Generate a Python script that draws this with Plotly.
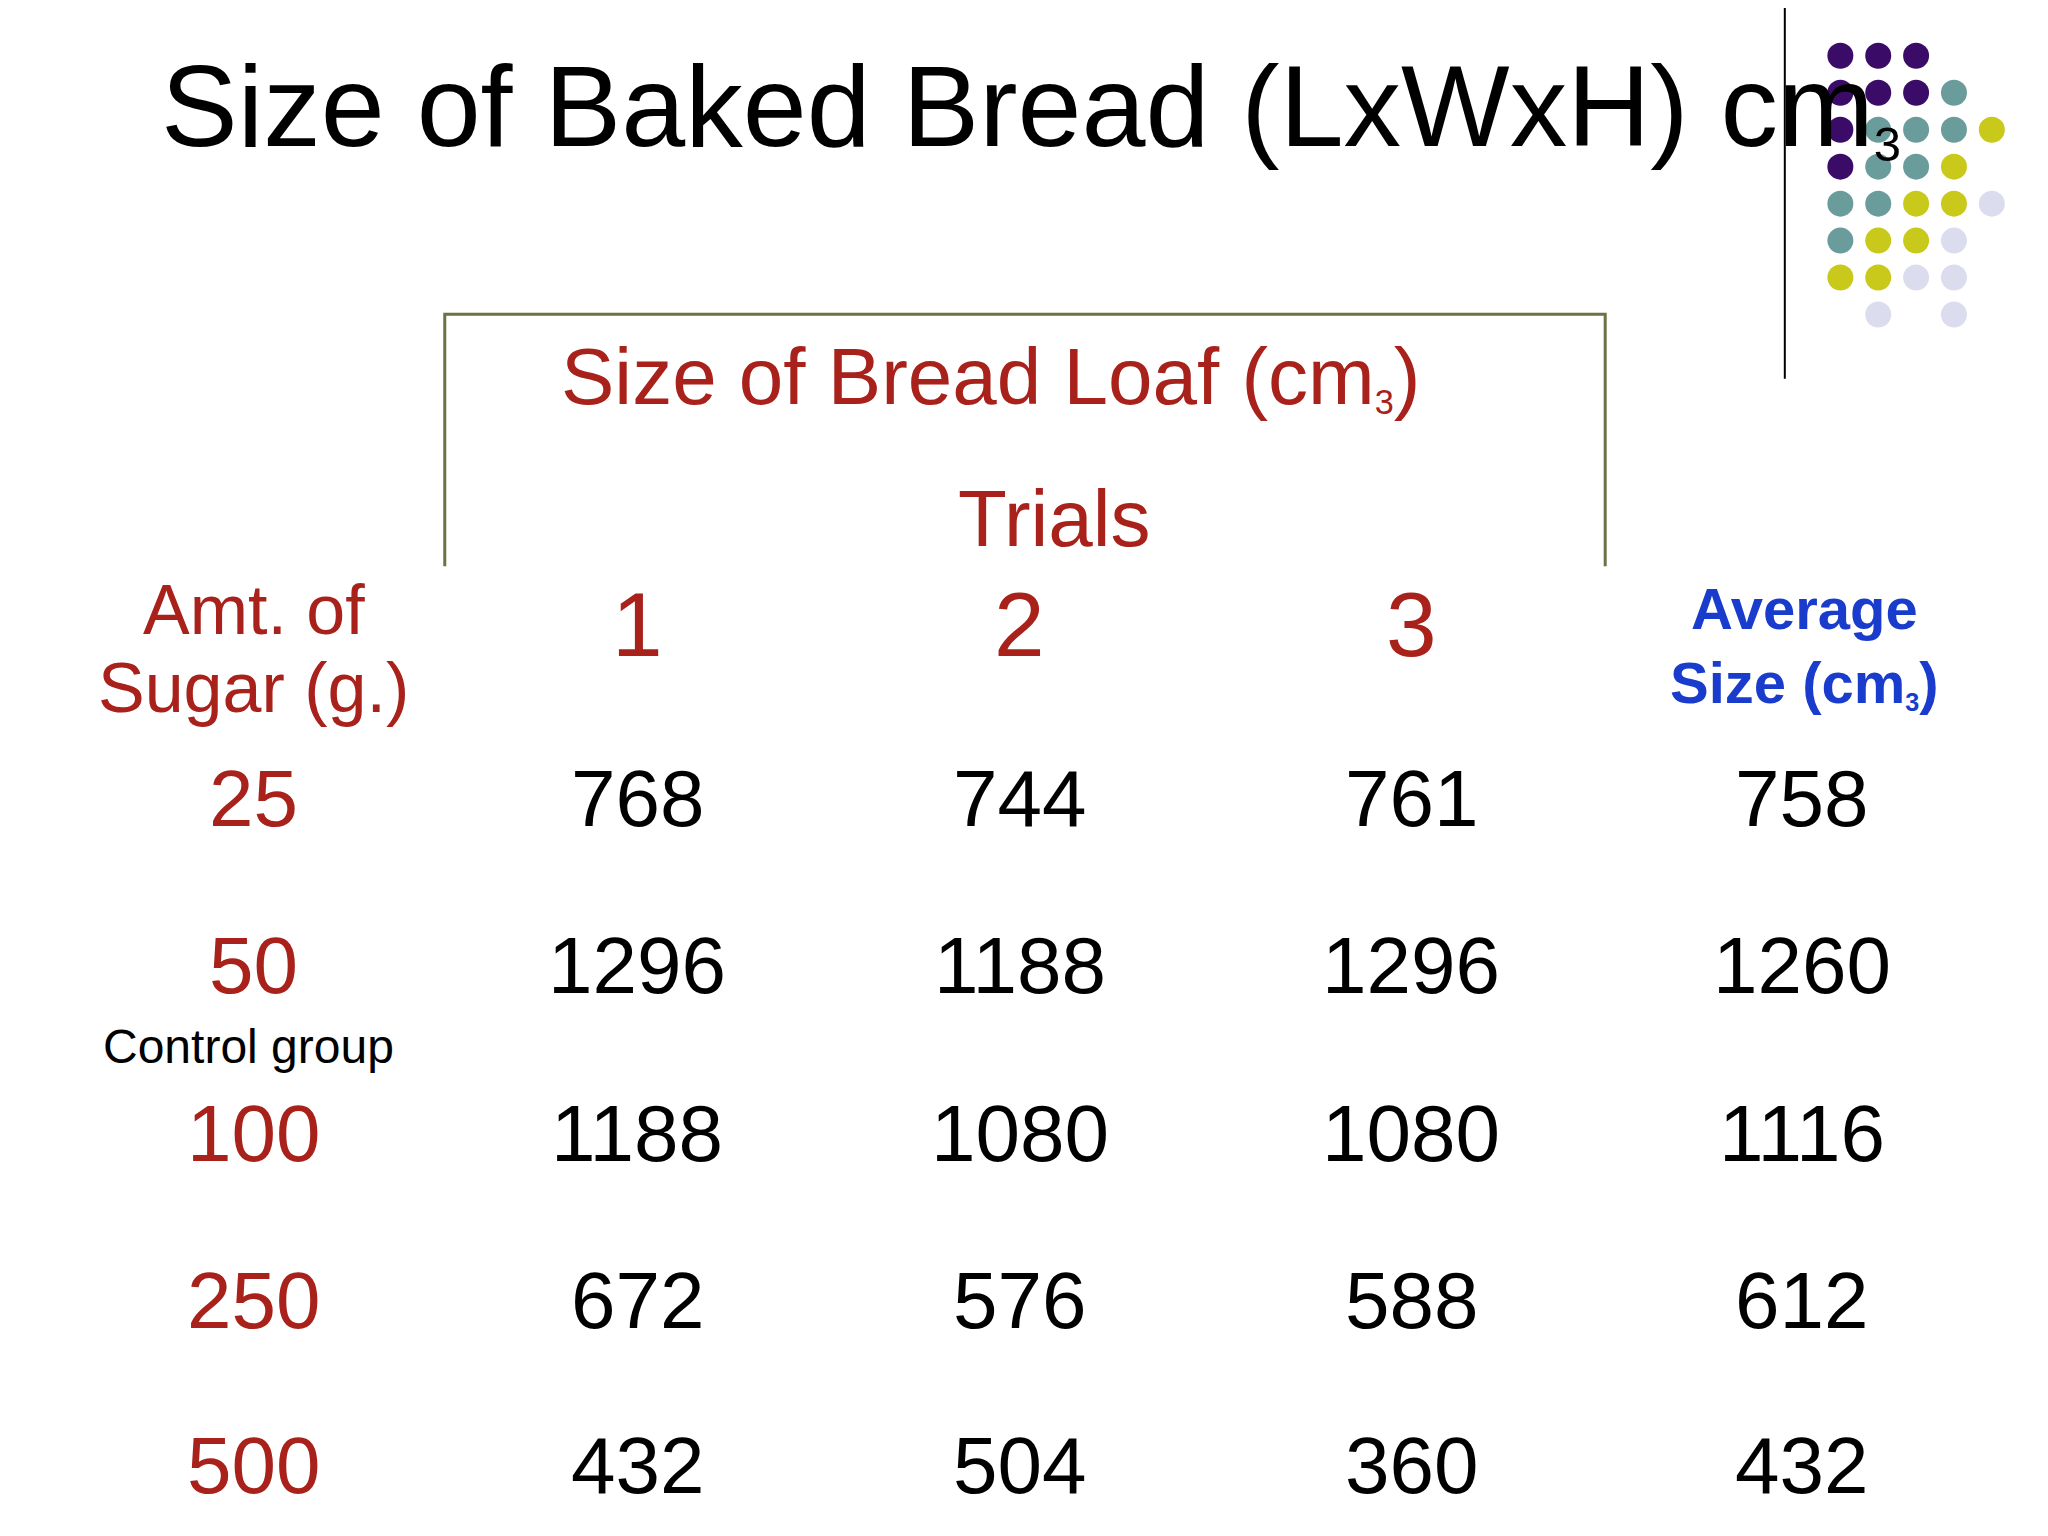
import plotly.graph_objects as go

S = 2048 / 1550 * 0.978  # layout scale from design units
F = 0.978

sugar = ["25", "50", "100", "250", "500"]
trial1 = [768, 1296, 1188, 672, 432]
trial2 = [744, 1188, 1080, 576, 504]
trial3 = [761, 1296, 1080, 588, 360]
average = [758, 1260, 1116, 612, 432]
trial_labels = ["1", "2", "3"]

RED = "#a8211b"
BLUE = "#1a3ccc"
FONT = "Liberation Sans, Arial, sans-serif"

# decorative dot grid: (col, row, colour key)
dot_cols = [0,1,2, 0,1,2,3, 0,1,2,3,4, 0,1,2,3, 0,1,2,3,4, 0,1,2,3, 0,1,2,3, 1,3]
dot_rows = [0,0,0, 1,1,1,1, 2,2,2,2,2, 3,3,3,3, 4,4,4,4,4, 5,5,5,5, 6,6,6,6, 7,7]
dot_keys = ["p","p","p", "p","p","p","t", "p","t","t","t","y", "p","t","t","y",
            "t","t","y","y","l", "t","y","y","l", "y","y","l","l", "l","l"]
palette = {"p": "#3a0c68", "t": "#6b9c9c", "y": "#c9c91b", "l": "#dcdcef"}

fig = go.Figure()
fig.add_trace(go.Scatter(
    x=[(1418 + 29.3 * c) * S for c in dot_cols],
    y=[(37 + 28.6 * r) * S for r in dot_rows],
    mode="markers",
    marker=dict(size=26, color=[palette[k] for k in dot_keys], line=dict(width=0)),
    hoverinfo="skip", showlegend=False))

def sub3(size):
    return f"<span style='font-size:{int(size*0.6)}px'><sub>3</sub></span>"

ann = []
def T(x, y, text, size, color="black", bold=False):
    ann.append(dict(x=x * S, y=y * S, xref="x", yref="y", text=f"<b>{text}</b>" if bold else text,
                    showarrow=False, font=dict(family=FONT, size=int(size * F), color=color),
                    xanchor="center", yanchor="middle"))

T(792, 76, "Size of Baked Bread (LxWxH) cm" + sub3(118), 118)
T(760, 285, "Size of Bread Loaf (cm" + sub3(82) + ")", 82, RED)
T(810, 395, "Trials", 82, RED)
T(190, 466, "Amt. of", 72, RED)
T(190, 526, "Sugar (g.)", 72, RED)
T(1390, 465, "Average", 60, BLUE, True)
T(1390, 522, "Size (cm" + sub3(60) + ")", 60, BLUE, True)
colx = [487, 783, 1086]
for lab, x in zip(trial_labels, colx):
    T(x, 477, lab, 94, RED)
rowy = [612, 741, 871, 1000, 1128]
avgx = 1388
for i, y in enumerate(rowy):
    T(190, y, sugar[i], 82, RED)
    T(487, y, str(trial1[i]), 82)
    T(783, y, str(trial2[i]), 82)
    T(1086, y, str(trial3[i]), 82)
    T(avgx, y, str(average[i]), 82)
T(186, 804, "Control group", 50)

shapes = [
    dict(type="path", xref="x", yref="y",
         path=f"M {338*S} {432*S} L {338*S} {237*S} L {1236*S} {237*S} L {1236*S} {432*S}",
         line=dict(color="#6d7245", width=3)),
    dict(type="line", xref="x", yref="y", x0=1375*S, x1=1375*S, y0=0, y1=287*S,
         line=dict(color="black", width=2)),
]

fig.update_layout(width=2048, height=1536, margin=dict(l=0, r=0, t=0, b=0),
                  paper_bgcolor="white", plot_bgcolor="white",
                  xaxis=dict(range=[0, 2048], visible=False, fixedrange=True),
                  yaxis=dict(range=[1536, 0], visible=False, fixedrange=True),
                  annotations=ann, shapes=shapes)
fig.write_html("out.html")
